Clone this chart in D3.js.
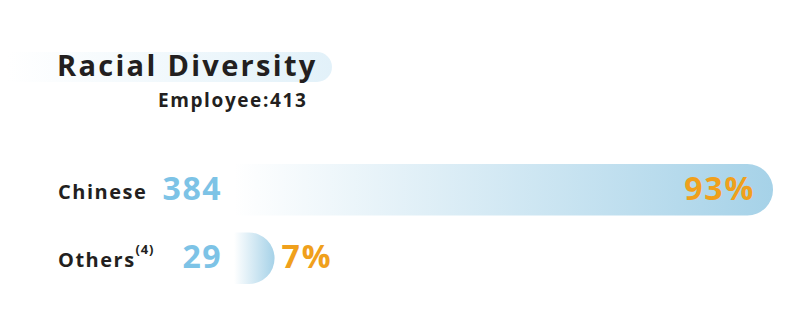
<!DOCTYPE html>
<html>
<head>
<meta charset="utf-8">
<script src="https://cdn.jsdelivr.net/npm/d3@7"></script>
<style>
  body { margin: 0; background: #fff; }
  svg { display: block; font-family: "Open Sans", sans-serif; font-weight: 700; }
</style>
</head>
<body>
<svg id="chart" width="800" height="318"></svg>
<script>
// data
var categories = ["Chinese", "Others"];
var notes = ["", "(4)"];
var counts = [384, 29];
var shares = [93, 7];
var total = 413;

var svg = d3.select("#chart");
var rows = categories.map(function(c, i) {
  return {name: c, note: notes[i], count: counts[i], share: shares[i]};
});

// scales
var x = d3.scaleLinear().domain([0, 100]).range([234, 813.6]);
var y = d3.scaleBand().domain(categories).range([164, 284]).paddingInner(0.25);

var defs = svg.append("defs");
var grad = defs.append("linearGradient").attr("id", "barGrad")
  .attr("x1", "0%").attr("x2", "100%").attr("y1", "0%").attr("y2", "0%");
grad.append("stop").attr("offset", "0%").attr("stop-color", "#ffffff");
grad.append("stop").attr("offset", "100%").attr("stop-color", "#a6d2e8");

var tgrad = defs.append("linearGradient").attr("id", "titleGrad")
  .attr("x1", "0%").attr("x2", "100%");
tgrad.append("stop").attr("offset", "0%").attr("stop-color", "#ffffff");
tgrad.append("stop").attr("offset", "100%").attr("stop-color", "#e2f1f9");

// rounded right end bar
function barPath(x0, x1, y0, h) {
  var r = Math.min(h / 2, x1 - x0), y1 = y0 + h;
  return "M" + x0 + "," + y0 + "H" + (x1 - r) +
    "A" + r + "," + (h / 2) + " 0 0 1 " + x1 + "," + (y0 + h / 2) +
    "A" + r + "," + (h / 2) + " 0 0 1 " + (x1 - r) + "," + y1 +
    "H" + x0 + "Z";
}

// title
svg.append("path")
  .attr("d", barPath(8, 332, 52, 30))
  .attr("fill", "url(#titleGrad)");

svg.append("text")
  .attr("x", 57).attr("y", 76)
  .attr("font-size", 29).attr("letter-spacing", 2.3)
  .attr("fill", "#231f20")
  .text("Racial Diversity");

svg.append("text")
  .attr("x", 158).attr("y", 107)
  .attr("font-size", 19).attr("letter-spacing", 1.6)
  .attr("fill", "#231f20")
  .text("Employee:" + total);

// rows
var g = svg.selectAll("g.row").data(rows).enter().append("g").attr("class", "row");

g.append("path")
  .attr("d", function(d) { return barPath(x(0), x(d.share), y(d.name), y.bandwidth()); })
  .attr("fill", "url(#barGrad)");

var lab = g.append("text")
  .attr("x", 58)
  .attr("y", function(d) { return y(d.name) + y.bandwidth() / 2 + 9; })
  .attr("font-size", 20).attr("letter-spacing", 1.5)
  .attr("fill", "#231f20")
  .text(function(d) { return d.name; });
lab.append("tspan")
  .attr("font-size", 13).attr("dy", -13).attr("letter-spacing", 0.8)
  .text(function(d) { return d.note; });

g.append("text")
  .attr("x", 222)
  .attr("y", function(d) { return y(d.name) + y.bandwidth() / 2 + 10; })
  .attr("text-anchor", "end")
  .attr("font-size", 32).attr("letter-spacing", 1.5)
  .attr("fill", "#7dc3e6")
  .text(function(d) { return d.count; });

g.append("text")
  .attr("x", function(d) { return d.share > 50 ? x(d.share) - 18 : x(d.share) + 7; })
  .attr("y", function(d) { return y(d.name) + y.bandwidth() / 2 + 10; })
  .attr("text-anchor", function(d) { return d.share > 50 ? "end" : "start"; })
  .attr("font-size", 32).attr("letter-spacing", 1.8)
  .attr("fill", "#f0a01c")
  .text(function(d) { return d.share + "%"; });
</script>
</body>
</html>
